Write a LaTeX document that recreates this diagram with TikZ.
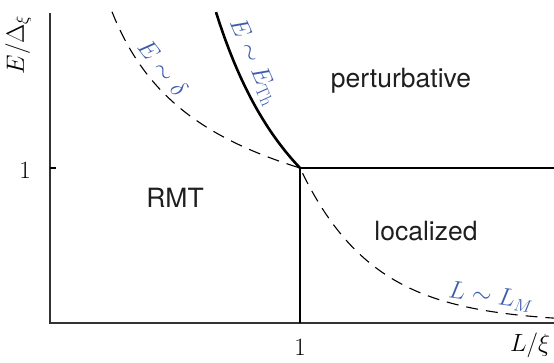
\documentclass[tikz,border=0pt]{standalone}
\usepackage{fontspec}
\setsansfont{TeX Gyre Heros}
\definecolor{lblue}{RGB}{62,92,172}
\begin{document}
\begin{tikzpicture}[x=1pt,y=-1pt,
  axis/.style={line width=1.8pt,draw=black!80},
  bound/.style={line width=2.6pt,black},
  crossover/.style={line width=1.1pt,dash pattern=on 12pt off 8pt},
  region/.style={text=black!88,font=\sffamily\fontsize{26.5}{30}\selectfont},
  mlabel/.style={font=\fontsize{27}{30}\selectfont},
  clabel/.style={text=lblue,font=\fontsize{25}{30}\selectfont}]
\useasboundingbox (0,0) rectangle (554,362);
\coordinate (O) at (50,323);
\coordinate (ytop) at (50,13);
\coordinate (xend) at (554,323);
\coordinate (C) at (300,168);
\coordinate (xt) at (300,323);
\coordinate (yt) at (50,168);
\coordinate (ytick) at (56,168);
\coordinate (R) at (554,168);
% axes
\draw[axis] (ytop) -- (O) -- (xend);
\draw[line width=1.2pt] (yt) -- (ytick);
% solid boundaries
\draw[bound] (C) -- (R);
\draw[bound] (C) -- (xt);
\draw[bound] plot[domain=0.664:1,samples=60,smooth] ({50+250*\x},{323-155*\x^(-1.7)});
% dashed crossover
\draw[crossover] plot[domain=0.248:1,samples=60,smooth] ({50+250*\x},{323-155*\x^(-0.5)})
  -- plot[domain=1:2.016,samples=60,smooth] ({50+250*\x},{323-155*exp(-3.4*(\x-1))});
% labels
\node[mlabel,rotate=90] (ylab) at (18,45) {$E/\Delta_\xi$};
\node[mlabel] (y1) at (25,170) {$1$};
\node[mlabel] (x1) at (300,347) {$1$};
\node[mlabel] (xlab) at (530,345) {$L/\xi$};
\node[region] (pert) at (401,81) {perturbative};
\node[region] (rmt) at (175,198) {RMT};
\node[region] (loc) at (426,231) {localized};
\node[clabel,rotate=-52,inner sep=1pt] (ed) at (163,68) {$E\sim\delta$};
\node[clabel,rotate=-66,inner sep=1pt] (eth) at (254,62) {$E\sim E_{\mathrm{Th}}$};
\node[clabel,rotate=-8] (lm) at (491,297) {$L\sim L_M$};
\end{tikzpicture}
\end{document}
